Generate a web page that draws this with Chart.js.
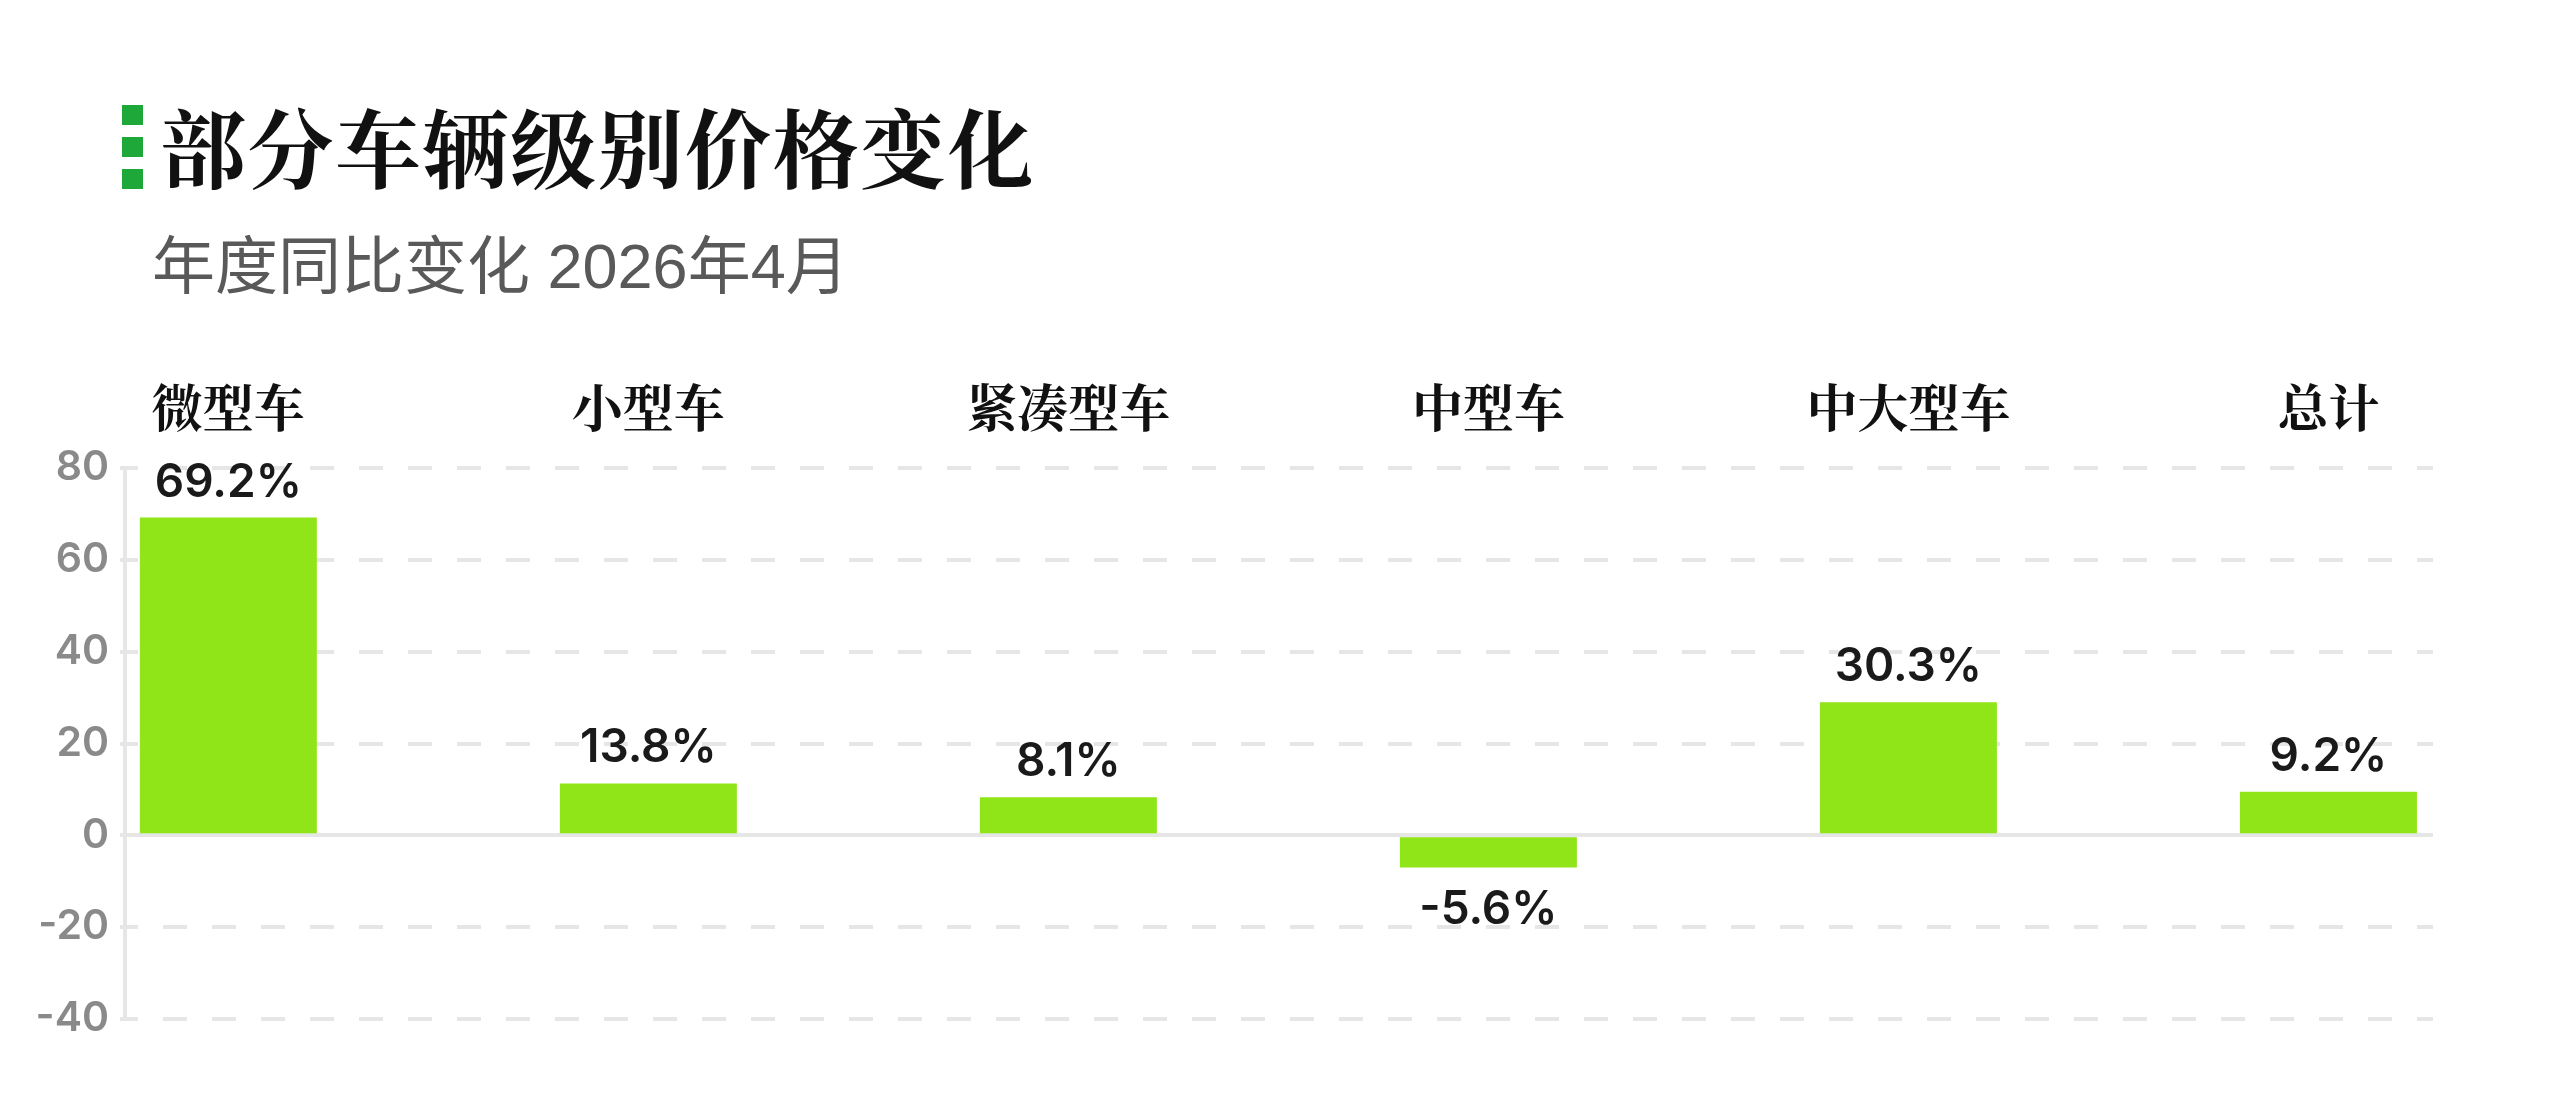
<!DOCTYPE html>
<html>
<head>
<meta charset="utf-8">
<script src="https://cdn.jsdelivr.net/npm/chart.js@4/dist/chart.umd.min.js"></script>
<style>
  html, body { margin: 0; padding: 0; background: #ffffff; }
  body { width: 2560px; height: 1107px; position: relative; overflow: hidden; }
  #chart { position: absolute; left: 0; top: 0; }
  .mark { position: absolute; left: 122px; width: 21px; height: 20px; background: #1fa83a; }
  #title { position: absolute; left: 160px; top: 100px; font-family: "Noto Serif CJK SC", "Noto Sans CJK SC", serif; font-weight: 700; font-size: 86px; line-height: 90px; color: #111111; letter-spacing: 1.5px; white-space: nowrap; }
  #subtitle { position: absolute; left: 152px; top: 231px; font-family: "Liberation Sans", "Noto Sans CJK SC", sans-serif; font-weight: 400; font-size: 63px; line-height: 70px; color: #595959; white-space: nowrap; }
</style>
</head>
<body>
<div class="mark" style="top:105px"></div>
<div class="mark" style="top:137px"></div>
<div class="mark" style="top:169px"></div>
<div id="title">部分车辆级别价格变化</div>
<div id="subtitle">年度同比变化 2026年4月</div>
<canvas id="chart" width="2560" height="1107"></canvas>
<script>
const categories = ['微型车', '小型车', '紧凑型车', '中型车', '中大型车', '总计'];
const barValues = [69.2, 11.3, 8.3, -7.0, 29.0, 9.5];
const valueLabels = ['69.2%', '13.8%', '8.1%', '-5.6%', '30.3%', '9.2%'];
const yTicks = [-40, -20, 0, 20, 40, 60, 80];

const barData = barValues.map((v, i) => ({ x: i, y: v }));

const valueLabelPlugin = {
  id: 'valueLabels',
  afterDatasetsDraw(chart) {
    const ctx = chart.ctx;
    const meta = chart.getDatasetMeta(0);
    ctx.save();
    ctx.font = '600 46px Inter, "Liberation Sans", sans-serif';
    ctx.fillStyle = '#1a1a1a';
    ctx.textAlign = 'center';
    ctx.textBaseline = 'alphabetic';
    meta.data.forEach((bar, i) => {
      const p = bar.getProps(['x', 'y', 'base'], true);
      const v = barValues[i];
      if (v >= 0) {
        ctx.fillText(valueLabels[i], p.x, p.y - 21);
      } else {
        ctx.fillText(valueLabels[i], p.x, p.y + 57);
      }
    });
    ctx.restore();
  }
};

new Chart(document.getElementById('chart'), {
  type: 'bar',
  data: {
    datasets: [{
      data: barData,
      backgroundColor: '#8fe517',
      borderWidth: 0,
      categoryPercentage: 1,
      barPercentage: 0.4214
    }]
  },
  options: {
    responsive: false,
    animation: false,
    devicePixelRatio: 1,
    layout: { padding: { left: 25, top: 368, right: 127, bottom: 88 } },
    plugins: { legend: { display: false }, tooltip: { enabled: false }, title: { display: false } },
    scales: {
      x: {
        type: 'linear',
        position: 'top',
        offset: false,
        min: -0.246,
        max: 5.249,
        grid: { display: false, drawTicks: false, offset: false },
        border: { display: false },
        ticks: {
          stepSize: 1,
          includeBounds: false,
          autoSkip: false,
          maxRotation: 0,
          padding: 30,
          color: '#111111',
          font: { family: '"Noto Serif CJK SC", "Noto Sans CJK SC", serif', size: 51, weight: '700' },
          callback: (v) => (Number.isInteger(v) && categories[v] !== undefined) ? categories[v] : ''
        },
        afterFit: (s) => { s.height = 100; }
      },
      y: {
        min: yTicks[0],
        max: yTicks[yTicks.length - 1],
        afterBuildTicks: (s) => { s.ticks = yTicks.map(v => ({ value: v })); },
        grid: {
          color: '#e6e6e6',
          lineWidth: 4,
          drawTicks: true,
          tickLength: 5,
          tickColor: '#e6e6e6',
          tickWidth: 4
        },
        border: {
          display: true,
          color: '#e6e6e6',
          width: 4,
          dash: (ctx) => (ctx.tick && ctx.tick.value === 0) ? [] : [24, 25],
          dashOffset: 13
        },
        ticks: {
          padding: 11,
          color: '#8a8a8a',
          font: { family: 'Inter, "Liberation Sans", sans-serif', size: 41, weight: '600' }
        },
        afterFit: (s) => { s.width = 100; }
      }
    }
  },
  plugins: [valueLabelPlugin]
});
</script>
</body>
</html>
